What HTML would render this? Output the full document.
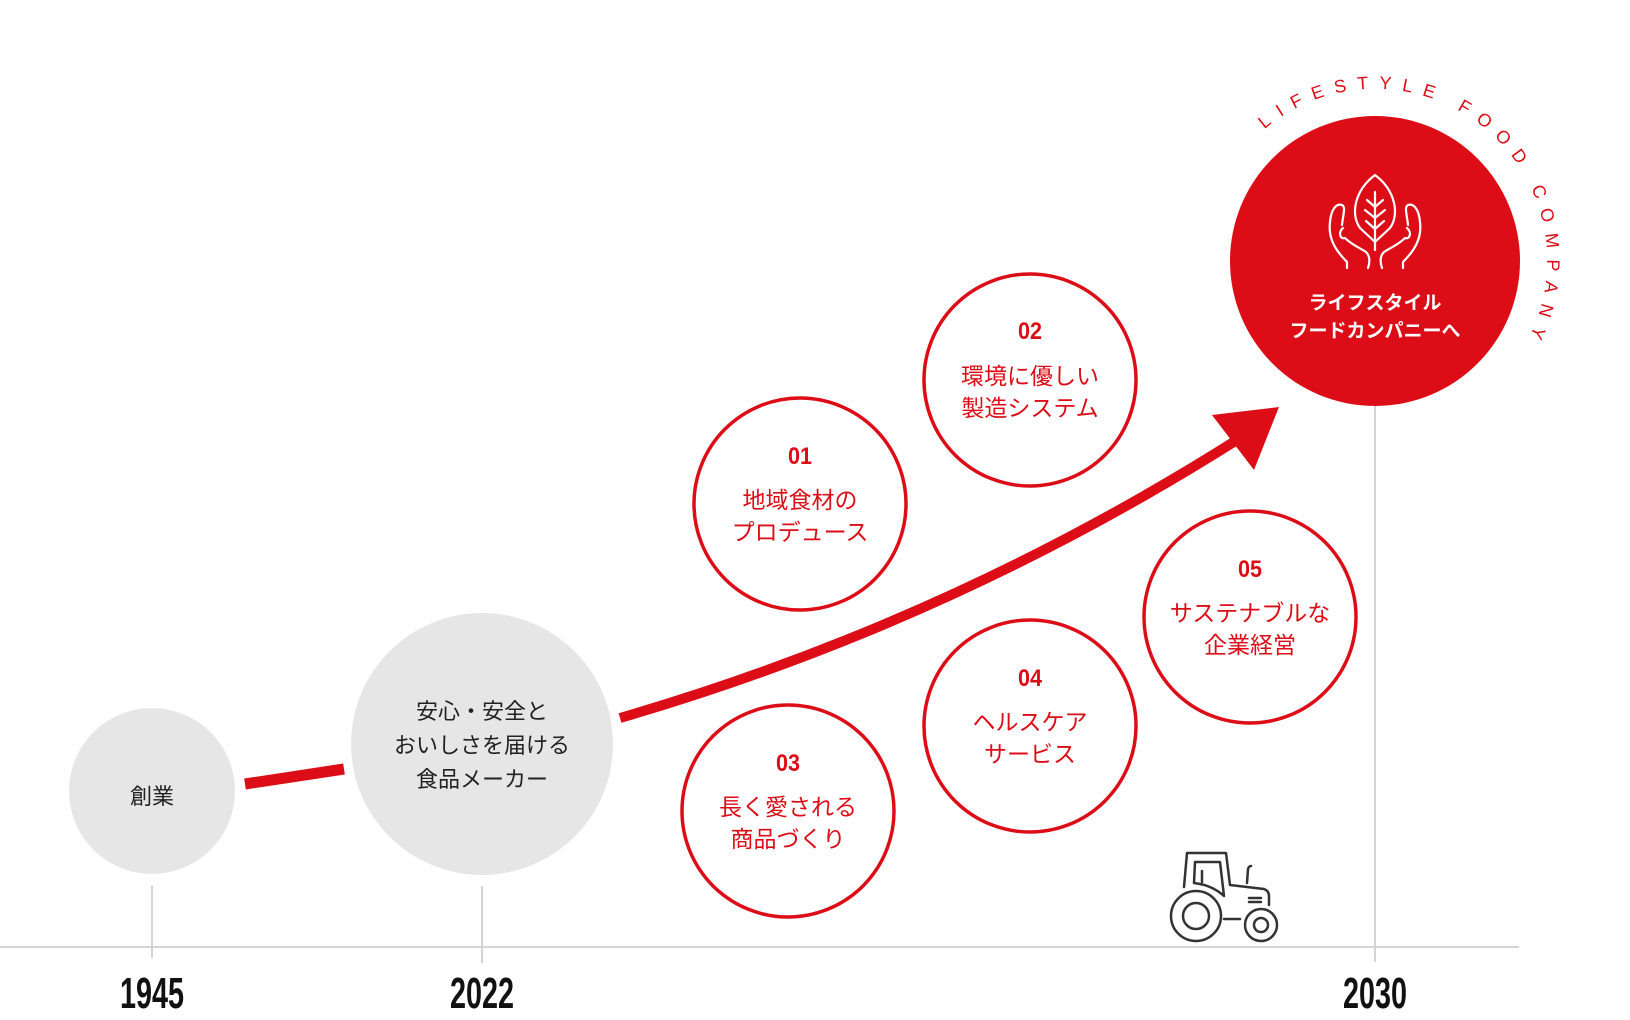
<!DOCTYPE html>
<html><head><meta charset="utf-8"><style>
html,body{margin:0;padding:0;background:#fff;}
svg{display:block;}
.j{font-family:"Liberation Sans","Noto Sans CJK JP",sans-serif;}
.n{font-family:"Liberation Sans Narrow","Liberation Sans",sans-serif;font-weight:bold;}
</style></head><body>
<svg width="1630" height="1020" viewBox="0 0 1630 1020" xmlns="http://www.w3.org/2000/svg">
<line x1="0" y1="947" x2="1519" y2="947" stroke="#d4d4d4" stroke-width="2"/>
<line x1="152" y1="886" x2="152" y2="958" stroke="#d4d4d4" stroke-width="2"/>
<line x1="482" y1="886" x2="482" y2="963" stroke="#d4d4d4" stroke-width="2"/>
<line x1="1375" y1="400" x2="1375" y2="962" stroke="#d4d4d4" stroke-width="2"/>
<g class="n" font-size="44" fill="#111" text-anchor="middle">
<text x="152" y="1008" textLength="64" lengthAdjust="spacingAndGlyphs">1945</text>
<text x="482" y="1008" textLength="64" lengthAdjust="spacingAndGlyphs">2022</text>
<text x="1375" y="1008" textLength="64" lengthAdjust="spacingAndGlyphs">2030</text>
</g>
<circle cx="152" cy="791" r="83" fill="#e6e6e6"/>
<circle cx="482" cy="744" r="131" fill="#e6e6e6"/>
<g class="j" font-size="22" fill="#222" text-anchor="middle">
<text x="152" y="804">創業</text>
<text x="482" y="719">安心・安全と</text>
<text x="482" y="753">おいしさを届ける</text>
<text x="482" y="787">食品メーカー</text>
</g>
<line x1="245" y1="784" x2="344" y2="769" stroke="#dc0d17" stroke-width="11"/>
<path d="M620 718 Q 950 622 1240 438" fill="none" stroke="#dc0d17" stroke-width="10"/>
<polygon points="1279,407 1212,415 1254,470" fill="#dc0d17"/>
<g fill="#fff" stroke="#dc0d17" stroke-width="3.5">
<circle cx="800" cy="504" r="106"/>
<circle cx="1030" cy="380" r="106"/>
<circle cx="788" cy="811" r="106"/>
<circle cx="1030" cy="726" r="106"/>
<circle cx="1250" cy="617" r="106"/>
</g>
<g class="n" font-size="24" fill="#dc0d17" text-anchor="middle">
<text x="800" y="464" textLength="24" lengthAdjust="spacingAndGlyphs">01</text>
<text x="1030" y="339" textLength="24" lengthAdjust="spacingAndGlyphs">02</text>
<text x="788" y="771" textLength="24" lengthAdjust="spacingAndGlyphs">03</text>
<text x="1030" y="686" textLength="24" lengthAdjust="spacingAndGlyphs">04</text>
<text x="1250" y="577" textLength="24" lengthAdjust="spacingAndGlyphs">05</text>
</g>
<g class="j" font-size="23" fill="#dc0d17" text-anchor="middle">
<text x="800" y="508">地域食材の</text><text x="800" y="540">プロデュース</text>
<text x="1030" y="384">環境に優しい</text><text x="1030" y="416">製造システム</text>
<text x="788" y="815">長く愛される</text><text x="788" y="847">商品づくり</text>
<text x="1030" y="730">ヘルスケア</text><text x="1030" y="762">サービス</text>
<text x="1250" y="621">サステナブルな</text><text x="1250" y="653">企業経営</text>
</g>
<circle cx="1375" cy="261" r="145" fill="#dc0d17"/>
<path id="arc" d="M1264.4 129.2 A172 172 0 0 1 1528.3 339.1" fill="none"/>
<text font-family="Liberation Sans, sans-serif" font-size="18" fill="#dc0d17"><textPath href="#arc" textLength="468" lengthAdjust="spacing">LIFESTYLE FOOD COMPANY</textPath></text>
<g fill="none" stroke="#fff" stroke-width="2.2" stroke-linecap="round" stroke-linejoin="round">
<path d="M1375 175 C1355 190 1350 214 1360 228 L1375 242 L1390 228 C1400 214 1395 190 1375 175 Z"/>
<path d="M1375 192 V250 M1375 207 L1367 200 M1375 207 L1383 200 M1375 218 L1365 210 M1375 218 L1385 210 M1375 229 L1366 221 M1375 229 L1384 221"/>
<path d="M1347 268 V262 C1335 250 1328 238 1330 222 C1331 210 1336 203 1342 205 C1346 207 1343 215 1342 225"/>
<path d="M1343 228 C1338 232 1340 240 1345 238 C1352 245 1360 248 1366 252 C1370 256 1370 262 1368 268"/>
<path d="M1403 268 V262 C1415 250 1422 238 1420 222 C1419 210 1414 203 1408 205 C1404 207 1407 215 1408 225"/>
<path d="M1407 228 C1412 232 1410 240 1405 238 C1398 245 1390 248 1384 252 C1380 256 1380 262 1382 268"/>
</g>
<g class="j" font-size="19" font-weight="bold" fill="#fff" text-anchor="middle">
<text x="1375" y="309">ライフスタイル</text>
<text x="1375" y="337">フードカンパニーへ</text>
</g>
<g fill="none" stroke="#333" stroke-width="2.5" stroke-linecap="round" stroke-linejoin="round">
<path d="M1184 887 L1187 853 L1226 853 L1230 885 L1264 889 Q1269 891 1269 896 V905"/>
<path d="M1194 883 L1195 862 L1220 862 L1224 896 M1194 883 Q1212 885 1224 896"/>
<path d="M1202 871 V882"/>
<path d="M1247 883 L1248 869 Q1249 866 1251 866"/>
<path d="M1249 898 H1261 M1249 902 H1261"/>
<path d="M1224 919 H1240"/>
<circle cx="1196" cy="916" r="25"/><circle cx="1196" cy="916" r="13"/>
<circle cx="1261" cy="925" r="16"/><circle cx="1261" cy="925" r="7"/>
</g>
</svg>
</body></html>
